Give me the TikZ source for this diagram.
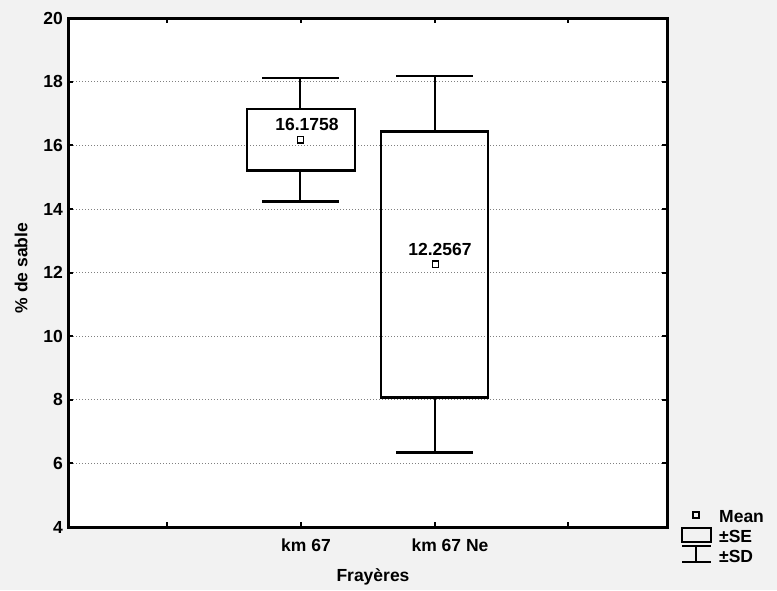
\documentclass[tikz,border=0pt]{standalone}
\usepackage{fontspec}
\setmainfont{Liberation Sans}
\begin{document}
\begin{tikzpicture}[x=1pt,y=-1pt,
  declare function={Yv(\v)=527-(\v-4)*31.8;},
  every node/.style={font=\fontsize{17.5}{19}\selectfont\bfseries, inner sep=0pt},
  frame/.style={line width=3pt},
  boxline/.style={line width=2.6pt},
  grid/.style={gray, line width=0.8pt, dash pattern=on 1pt off 2pt},
  meanmark/.style={draw, line width=1.4pt, minimum size=6.5pt, inner sep=0pt},
  tickl/.style={anchor=east},
]
\useasboundingbox (0,0) rectangle (777,590);
\fill[black!5] (0,0) rectangle (777,590);
\fill[white] (68,18) rectangle (667,527);
% grid
\foreach \v in {6,8,...,18} {
  \draw[grid] (70,{Yv(\v)}) -- (665,{Yv(\v)});
}
% ticks
\foreach \v in {4,6,...,20} {
  \draw[line width=2pt] (68,{Yv(\v)}) -- (73,{Yv(\v)});
  \draw[line width=2pt] (667,{Yv(\v)}) -- (662,{Yv(\v)});
  \node[tickl] (yl\v) at (63,{Yv(\v)}) {\v};
}
\foreach \xx in {167,301,435,568} {
  \draw[line width=2pt] (\xx,527) -- (\xx,522);
  \draw[line width=2pt] (\xx,18) -- (\xx,23);
}
\draw[frame] (68,18) rectangle (667,527);
% box 1
\coordinate (b1top) at (300,{Yv(18.12)});
\coordinate (b1bot) at (300,{Yv(14.24)});
\draw[boxline] (247,{Yv(17.14)}) rectangle (355,{Yv(15.22)});
\draw[boxline] (b1top) -- (300,{Yv(17.14)});
\draw[boxline] (b1bot) -- (300,{Yv(15.22)});
\draw[boxline] (262,{Yv(18.12)}) -- (339,{Yv(18.12)});
\draw[boxline] (262,{Yv(14.24)}) -- (339,{Yv(14.24)});
\node[meanmark] (m1) at (300.5,{Yv(16.1758)}) {};
\node (t1) at (307,124) {16.1758};
% box 2
\coordinate (b2top) at (435,{Yv(18.18)});
\coordinate (b2bot) at (435,{Yv(6.34)});
\draw[boxline] (381,{Yv(16.44)}) rectangle (488,{Yv(8.08)});
\draw[boxline] (b2top) -- (435,{Yv(16.44)});
\draw[boxline] (b2bot) -- (435,{Yv(8.08)});
\draw[boxline] (396,{Yv(18.18)}) -- (473,{Yv(18.18)});
\draw[boxline] (396,{Yv(6.34)}) -- (473,{Yv(6.34)});
\node[meanmark] (m2) at (435.5,{Yv(12.2567)}) {};
\node (t2) at (440,249) {12.2567};
% axis labels
\node (c1) at (306,545) {km 67};
\node (c2) at (450,545) {km 67 Ne};
\node (xlab) at (373,577) {Frayères};
\node[rotate=90] (ylab) at (21,268) {\% de sable};
% legend
\node[meanmark, line width=1.2pt, minimum size=6pt] (lm) at (696,515) {};
\node[anchor=west] (lmt) at (719,517) {Mean};
\draw[line width=2.2pt] (682,528) rectangle (711,542);
\node[anchor=west] (lse) at (719,536.5) {±SE};
\coordinate (sdt) at (696,546);
\coordinate (sdb) at (696,562);
\draw[line width=2.2pt] (sdt) -- (sdb);
\draw[line width=2.2pt] (682,546) -- (711,546);
\draw[line width=2.2pt] (682,562) -- (711,562);
\node[anchor=west] (lsd) at (719,556) {±SD};
\end{tikzpicture}
\end{document}
